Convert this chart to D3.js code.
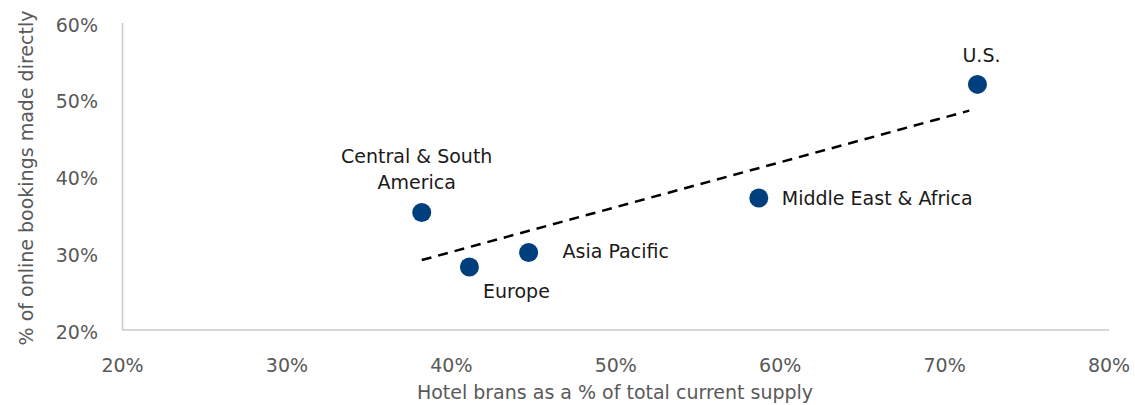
<!DOCTYPE html>
<html lang="en">
<head>
<meta charset="UTF-8">
<title>Hotel brands vs direct online bookings</title>
<script src="https://cdn.jsdelivr.net/npm/d3@7"></script>
<style>
    body { margin: 0; background: #fff; }
    .tick-label { font: 19px "DejaVu Sans", sans-serif; fill: #595959; }
    .axis-title { font: 19px "DejaVu Sans", sans-serif; fill: #595959; }
    .point-label { font: 19px "DejaVu Sans", sans-serif; fill: #1a1a1a; }
</style>
</head>
<body>
<svg id="chart" width="1135" height="405"></svg>
<script>
    // data
    const regions = ["Central & South America", "Europe", "Asia Pacific", "Middle East & Africa", "U.S."];
    const brandShare = [0.382, 0.411, 0.447, 0.587, 0.720];
    const directShare = [0.353, 0.282, 0.301, 0.372, 0.520];
    const xTicks = [0.2, 0.3, 0.4, 0.5, 0.6, 0.7, 0.8];
    const yTicks = [0.2, 0.3, 0.4, 0.5, 0.6];

    // where each label sits relative to its dot
    const labelLayout = {
        "Central & South America": { lines: ["Central & South", "America"], dx: -5, dy: -50, anchor: "middle" },
        "Europe": { lines: ["Europe"], dx: 47, dy: 31, anchor: "middle" },
        "Asia Pacific": { lines: ["Asia Pacific"], dx: 34, dy: 6, anchor: "start" },
        "Middle East & Africa": { lines: ["Middle East & Africa"], dx: 23, dy: 7, anchor: "start" },
        "U.S.": { lines: ["U.S."], dx: 4, dy: -22, anchor: "middle" }
    };

    const svg = d3.select("#chart");
    const x = d3.scaleLinear().domain([0.2, 0.8]).range([122.5, 1109]);
    const y = d3.scaleLinear().domain([0.2, 0.6]).range([330, 23]);
    const pct = d3.format(".0%");

    // axis lines
    svg.append("line")
        .attr("x1", x(0.2)).attr("x2", x(0.8))
        .attr("y1", y(0.2)).attr("y2", y(0.2))
        .attr("stroke", "#c8c8c8").attr("stroke-width", 1.5);
    svg.append("line")
        .attr("x1", x(0.2)).attr("x2", x(0.2))
        .attr("y1", y(0.2)).attr("y2", y(0.6))
        .attr("stroke", "#c8c8c8").attr("stroke-width", 1.5);

    svg.selectAll(".xt").data(xTicks).enter().append("text")
        .attr("class", "tick-label")
        .attr("x", d => x(d)).attr("y", 372)
        .attr("text-anchor", "middle")
        .text(pct);

    svg.selectAll(".yt").data(yTicks).enter().append("text")
        .attr("class", "tick-label")
        .attr("x", 98).attr("y", d => y(d) + 8.5)
        .attr("text-anchor", "end")
        .text(pct);

    svg.append("text")
        .attr("class", "axis-title")
        .attr("x", 615).attr("y", 399)
        .attr("text-anchor", "middle")
        .text("Hotel brans as a % of total current supply");

    svg.append("text")
        .attr("class", "axis-title")
        .attr("transform", "translate(33,178) rotate(-90)")
        .attr("text-anchor", "middle")
        .text("% of online bookings made directly");

    // linear trend line (least squares) between min and max x
    const mx = d3.mean(brandShare), my = d3.mean(directShare);
    let sxy = 0, sxx = 0;
    brandShare.forEach((v, i) => {
        sxy += (v - mx) * (directShare[i] - my);
        sxx += (v - mx) * (v - mx);
    });
    const slope = sxy / sxx, icpt = my - slope * mx;
    const x0 = d3.min(brandShare), x1 = d3.max(brandShare) - 0.005;
    svg.append("line")
        .attr("x1", x(x0)).attr("y1", y(icpt + slope * x0))
        .attr("x2", x(x1)).attr("y2", y(icpt + slope * x1))
        .attr("stroke", "#000").attr("stroke-width", 2.5)
        .attr("stroke-dasharray", "10,7");

    const pts = regions.map((r, i) => ({ name: r, bx: brandShare[i], dy: directShare[i] }));

    svg.selectAll(".dot").data(pts).enter().append("circle")
        .attr("cx", d => x(d.bx)).attr("cy", d => y(d.dy))
        .attr("r", 9.5).attr("fill", "#003f7d");

    pts.forEach(p => {
        const l = labelLayout[p.name];
        const t = svg.append("text")
            .attr("class", "point-label")
            .attr("text-anchor", l.anchor)
            .attr("x", x(p.bx) + l.dx)
            .attr("y", y(p.dy) + l.dy);
        l.lines.forEach((s, k) => {
            t.append("tspan")
                .attr("x", x(p.bx) + l.dx)
                .attr("dy", k === 0 ? 0 : 26)
                .text(s);
        });
    });
</script>
</body>
</html>
